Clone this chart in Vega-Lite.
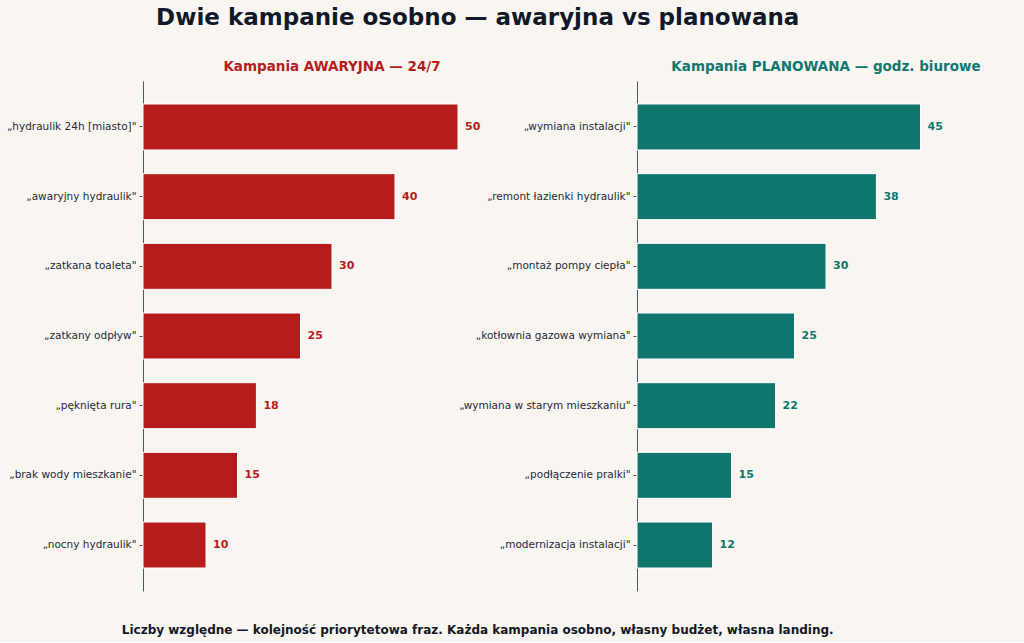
{
  "$schema": "https://vega.github.io/schema/vega-lite/v6.json",
  "background": "#f9f6f1",
  "padding": {"left": 6, "top": 6, "right": 9, "bottom": 6},
  "title": {
    "text": "Dwie kampanie osobno — awaryjna vs planowana",
    "font": "DejaVu Sans",
    "fontSize": 23,
    "fontWeight": "bold",
    "color": "#111827",
    "anchor": "middle",
    "dx": -33,
    "offset": 30
  },
  "config": {
    "font": "DejaVu Sans",
    "view": {"stroke": null},
    "axisY": {
      "title": null,
      "labelFont": "DejaVu Sans",
      "labelFontSize": 10.5,
      "labelColor": "#1f2937",
      "labelPadding": 3,
      "labelLimit": 0,
      "domainColor": "#4b5563",
      "tickColor": "#4b5563",
      "tickSize": 4,
      "grid": false
    },
    "title": {"font": "DejaVu Sans", "fontWeight": "bold"}
  },
  "datasets": {
    "awaryjna": [
      {"fraza": "„hydraulik 24h [miasto]\"", "wartosc": 50},
      {"fraza": "„awaryjny hydraulik\"", "wartosc": 40},
      {"fraza": "„zatkana toaleta\"", "wartosc": 30},
      {"fraza": "„zatkany odpływ\"", "wartosc": 25},
      {"fraza": "„pęknięta rura\"", "wartosc": 18},
      {"fraza": "„brak wody mieszkanie\"", "wartosc": 15},
      {"fraza": "„nocny hydraulik\"", "wartosc": 10}
    ],
    "planowana": [
      {"fraza": "„wymiana instalacji\"", "wartosc": 45},
      {"fraza": "„remont łazienki hydraulik\"", "wartosc": 38},
      {"fraza": "„montaż pompy ciepła\"", "wartosc": 30},
      {"fraza": "„kotłownia gazowa wymiana\"", "wartosc": 25},
      {"fraza": "„wymiana w starym mieszkaniu\"", "wartosc": 22},
      {"fraza": "„podłączenie pralki\"", "wartosc": 15},
      {"fraza": "„modernizacja instalacji\"", "wartosc": 12}
    ]
  },
  "vconcat": [
    {
      "title": {
        "text": "Liczby względne — kolejność priorytetowa fraz. Każda kampania osobno, własny budżet, własna landing.",
        "orient": "bottom",
        "anchor": "middle",
        "fontSize": 12,
        "fontWeight": "bold",
        "color": "#111827",
        "dx": -33,
        "offset": 34
      },
      "bounds": "flush",
      "spacing": 116,
      "resolve": {"scale": {"x": "independent", "y": "independent"}},
      "hconcat": [
        {
          "width": 378,
          "height": 510,
          "data": {"name": "awaryjna"},
          "title": {
            "text": "Kampania AWARYJNA — 24/7",
            "fontSize": 13.5,
            "fontWeight": "bold",
            "color": "#b71c1c",
            "offset": 8
          },
          "encoding": {
            "y": {
              "field": "fraza",
              "type": "nominal",
              "sort": null,
              "scale": {"paddingInner": 0.34, "paddingOuter": 0.33}
            },
            "x": {
              "field": "wartosc",
              "type": "quantitative",
              "scale": {"domain": [0, 60]},
              "axis": null
            }
          },
          "layer": [
            {"mark": {"type": "bar", "color": "#b71c1c", "stroke": "#ffffff", "strokeWidth": 1}},
            {
              "mark": {"type": "text", "align": "left", "baseline": "middle", "dx": 7, "fontSize": 11, "fontWeight": "bold", "color": "#b71c1c"},
              "encoding": {"text": {"field": "wartosc", "type": "quantitative"}}
            }
          ]
        },
        {
          "width": 378,
          "height": 510,
          "data": {"name": "planowana"},
          "title": {
            "text": "Kampania PLANOWANA — godz. biurowe",
            "fontSize": 13.5,
            "fontWeight": "bold",
            "color": "#0f766e",
            "offset": 8
          },
          "encoding": {
            "y": {
              "field": "fraza",
              "type": "nominal",
              "sort": null,
              "scale": {"paddingInner": 0.34, "paddingOuter": 0.33}
            },
            "x": {
              "field": "wartosc",
              "type": "quantitative",
              "scale": {"domain": [0, 60]},
              "axis": null
            }
          },
          "layer": [
            {"mark": {"type": "bar", "color": "#0f766e", "stroke": "#ffffff", "strokeWidth": 1}},
            {
              "mark": {"type": "text", "align": "left", "baseline": "middle", "dx": 7, "fontSize": 11, "fontWeight": "bold", "color": "#0f766e"},
              "encoding": {"text": {"field": "wartosc", "type": "quantitative"}}
            }
          ]
        }
      ]
    }
  ]
}
